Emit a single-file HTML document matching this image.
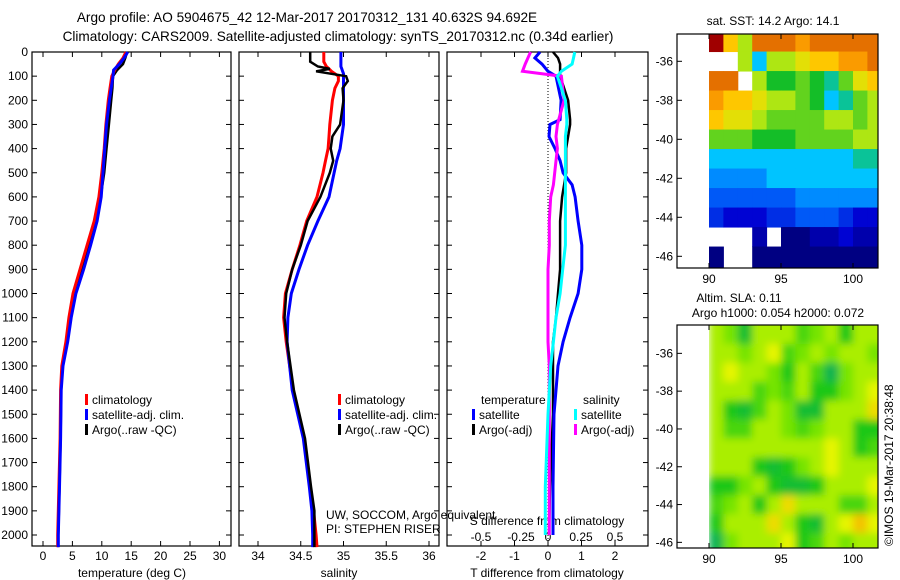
<!DOCTYPE html>
<html><head><meta charset="utf-8"><style>
html,body{margin:0;padding:0;background:#fff;}
svg{display:block;font-family:"Liberation Sans",sans-serif;}
text{font-size:12px;fill:#000;}
</style></head><body>
<svg id="c" width="900" height="580" viewBox="0 0 900 580">
<text x="307" y="22" text-anchor="middle" style="font-size:13.6px">Argo profile: AO 5904675_42 12-Mar-2017 20170312_131 40.632S 94.692E</text>
<text x="338" y="41" text-anchor="middle" style="font-size:13.6px">Climatology: CARS2009. Satellite-adjusted climatology: synTS_20170312.nc (0.34d earlier)</text>
<text x="773" y="25" text-anchor="middle">sat. SST: 14.2 Argo: 14.1</text>
<text x="739" y="302" text-anchor="middle">Altim. SLA: 0.11</text>
<text x="778" y="317" text-anchor="middle">Argo h1000: 0.054 h2000: 0.072</text>
<text transform="translate(893,546) rotate(-90)">©IMOS 19-Mar-2017 20:38:48</text>
<g id="g"></g>
</svg>
<script>
// ---- profile data ----
const depthsT = [0,25,50,75,100,150,200,300,400,500,600,700,800,900,1000,1100,1200,1300,1400,1600,1800,2000,2050];
const tempClim = [14.1,13.6,12.8,12.2,11.7,11.4,11.1,10.7,10.4,10.0,9.5,8.7,7.5,6.3,5.1,4.4,3.9,3.2,3.0,2.9,2.7,2.5,2.5];
const tempSat  = [14.4,13.8,13.0,12.0,11.9,11.6,11.3,10.8,10.5,10.2,9.9,9.2,8.1,6.9,5.6,4.8,4.2,3.4,3.1,3.0,2.8,2.6,2.6];
const tempArgo = [14.3,14.0,13.6,12.6,11.9,11.8,11.6,11.2,10.8,10.4,9.8,8.9,7.8,6.6,5.4,4.6,4.0,3.3,3.1,3.0,2.8,2.6,2.6];
const depthsS = [0,40,60,70,80,90,100,120,150,200,300,350,400,450,500,600,700,800,900,1000,1100,1200,1400,1600,1800,1900,2000,2050];
const salClim = [34.77,34.77,34.80,34.83,34.86,34.90,34.94,34.94,34.90,34.87,34.84,34.83,34.82,34.79,34.76,34.69,34.57,34.49,34.40,34.32,34.30,34.33,34.41,34.54,34.61,34.65,34.68,34.69];
const salSat  = [34.97,34.97,34.97,34.98,34.99,35.00,35.00,35.00,35.00,35.00,35.00,34.98,34.96,34.92,34.89,34.83,34.70,34.58,34.48,34.39,34.35,34.34,34.40,34.53,34.60,34.63,34.64,34.64];
const salArgo = [34.61,34.61,34.70,34.84,34.68,34.85,35.03,35.05,34.99,35.00,34.96,34.87,34.85,34.88,34.84,34.73,34.58,34.50,34.40,34.33,34.31,34.34,34.42,34.55,34.62,34.66,34.66,34.66];
const depthsD = [0,25,50,80,100,200,280,300,350,400,450,500,550,600,700,800,900,1000,1100,1200,1300,1500,1800,2000];
const dTsat  = [-0.24,-0.39,-0.18,0.00,0.24,0.39,0.36,0.06,0.03,0.21,0.36,0.45,0.72,0.81,0.90,1.01,1.01,0.90,0.66,0.45,0.30,0.18,0.15,0.15];
const dTargo = [0.15,0.30,0.36,0.36,0.36,0.60,0.66,0.66,0.60,0.54,0.54,0.54,0.48,0.42,0.36,0.36,0.36,0.30,0.24,0.15,0.15,0.15,0.06,0.03];
const dSsat  = [0.20,0.19,0.18,0.10,0.07,0.13,0.14,0.14,0.13,0.13,0.13,0.13,0.13,0.13,0.13,0.13,0.11,0.09,0.06,0.04,0.02,0.00,-0.02,-0.02];
const dSargo = [-0.13,-0.15,-0.17,-0.19,0.10,0.12,0.08,0.07,0.06,0.07,0.06,0.05,0.04,0.02,0.01,0.01,0.00,0.00,0.00,0.00,0.01,0.01,0.01,0.01];
const depthTicks = [0,100,200,300,400,500,600,700,800,900,1000,1100,1200,1300,1400,1500,1600,1700,1800,1900,2000];
const tempTicks = [0,5,10,15,20,25,30];
const salTicks = [34,34.5,35,35.5,36];
const salTickLabels = ["34","34.5","35","35.5","36"];
const dTTicks = [-2,-1,0,1,2];
const dSTicks = [-0.5,-0.25,0,0.25,0.5];
const dSTickLabels = ["-0.5","-0.25","0","0.25","0.5"];
// ---- map data ----
const mapLats = [-35,-36,-37,-38,-39,-40,-41,-42,-43,-44,-45,-46];
const mapLons = [90,91,92,93,94,95,96,97,98,99,100,101];
const N = null;
const sst = [
[18,16,15,17,17,17,16.5,17,17,17,17,17],
[N,N,15,13,15,15,15.5,16,16,16.5,16.5,17],
[17,17,N,15,14,14,14.5,14,13.5,14.5,15.5,16],
[16.5,16,16,15.5,15,15,14.5,14,13,13.5,14.5,15],
[16,15.5,15.5,15,14.5,14.5,14.5,14.5,15,15,14.5,15],
[14.5,14.5,14.5,14,14,14,14.5,14.5,14.5,14.5,15,15],
[13,13,13,13,13,13,13,13,13,13,13.5,13.5],
[12.5,12.5,12.5,12.5,13,13,13,13,13,13,13,13],
[12,12,12,12,12,12,12.5,12.5,12.5,12.5,12.5,12.5],
[11.5,11,11,11,11.5,11.5,12,12,12,11.5,11,11],
[N,N,N,10.5,N,10,10,10.5,10.5,11,10.5,10.5],
[10,N,N,10,10,10,10,10,10,10,10,10]];
const sla = [
[0.6,0.5,0.2,0.6,0.6,0.6,0.4,0.5,0.6,0.3,0.6,0.6],
[0.6,0.6,0.5,0.6,0.7,0.4,0.5,0.6,0.5,0.6,0.6,0.5],
[0.6,0.7,0.6,0.6,0.5,0.3,0.6,0.4,0.1,0.5,0.6,0.6],
[0.6,0.6,0.6,0.4,0.5,0.4,0.6,0.3,0.3,0.5,0.6,0.7],
[0.6,0.3,0.2,0.4,0.6,0.5,0.2,0.2,0.6,0.6,0.6,0.8],
[0.6,0.4,0.4,0.6,0.6,0.5,0.4,0.5,0.6,0.6,0.3,0.3],
[0.6,0.6,0.6,0.6,0.6,0.6,0.6,0.6,0.7,0.6,0.3,0.4],
[0.6,0.6,0.6,0.3,0.2,0.3,0.5,0.6,0.7,0.6,0.6,0.6],
[0.3,0.3,0.5,0.6,0.3,0.2,0.2,0.3,0.6,0.6,0.6,0.7],
[0.4,0.5,0.6,0.3,0.6,0.8,0.6,0.6,0.6,0.4,0.4,0.6],
[0.3,0.6,0.6,0.6,0.8,0.6,0.3,0.2,0.6,0.7,0.9,0.7],
[0.1,0.5,0.6,0.6,0.6,0.7,0.3,0.4,0.6,0.5,0.6,0.6]];
const latTicks = [-36,-38,-40,-42,-44,-46];
const lonTicks = [90,95,100];

const NS="http://www.w3.org/2000/svg";
const G=document.getElementById('g');
function mk(tag,attrs,parent){const e=document.createElementNS(NS,tag);for(const k in attrs)e.setAttribute(k,attrs[k]);(parent||G).appendChild(e);return e;}

const TOP=52, BOT=546;
const yD = d => TOP + d*0.2415;
const xT = t => 43 + t*5.88;
const xS = s => 258 + (s-34)*85.5;
const xDT = v => 548 + v*33.5;
const xDS = v => 548 + v*134;

function frame(x0,x1,name){
  const r=mk('rect',{x:x0,y:TOP,width:x1-x0,height:BOT-TOP,fill:'none',stroke:'#000','stroke-width':1.2});
  
  
  depthTicks.forEach(d=>{
    mk('line',{x1:x0,x2:x0+5,y1:yD(d),y2:yD(d),stroke:'#000'});
    mk('line',{x1:x1,x2:x1-5,y1:yD(d),y2:yD(d),stroke:'#000'});
  });
}
function xticks(vals,fx,labels,ly){
  vals.forEach((v,i)=>{
    const x=fx(v);
    mk('line',{x1:x,x2:x,y1:TOP,y2:TOP+5,stroke:'#000'});
    mk('line',{x1:x,x2:x,y1:BOT,y2:BOT-5,stroke:'#000'});
    if(labels){const t=mk('text',{x:x,y:ly,'text-anchor':'middle'});t.textContent=labels[i];
      
      }
  });
}
function line(ds,vs,fx,color,name,w){
  const pts=ds.map((d,i)=>fx(vs[i]).toFixed(1)+','+yD(d).toFixed(1)).join(' ');
  const p=mk('polyline',{points:pts,fill:'none',stroke:color,'stroke-width':w||3,'stroke-linejoin':'miter'});
  
  
}
function legend(x,y,color,label){
  mk('rect',{x:x,y:y-10,width:3,height:11,fill:color});
  const t=mk('text',{x:x+7,y:y});t.textContent=label;
  
  
}

frame(32,231,'temperature-panel');
frame(239,439,'salinity-panel');
frame(447,648,'difference-panel');
depthTicks.forEach(d=>{
  const t=mk('text',{x:28,y:yD(d)+4,'text-anchor':'end'});t.textContent=d;
  
  
});
xticks(tempTicks,xT,tempTicks.map(String),560);
xticks(salTicks,xS,salTickLabels,560);
xticks(dTTicks,xDT,dTTicks.map(String),560);
dSTicks.forEach((v,i)=>{
  const xs=[481,521,548,581,615];
  const t=mk('text',{x:xs[i],y:541,'text-anchor':'middle'});t.textContent=dSTickLabels[i];
  
  
});
[['temperature (deg C)',132],['salinity',339],['T difference from climatology',547]].forEach(a=>{
  const t=mk('text',{x:a[1],y:577,'text-anchor':'middle'});t.textContent=a[0];
  
  
});
{const t=mk('text',{x:547,y:525,'text-anchor':'middle'});t.textContent='S difference from climatology';

}
{const t=mk('text',{x:326,y:519});t.textContent='UW, SOCCOM, Argo equivalent';

}
{const t=mk('text',{x:326,y:533});t.textContent='PI: STEPHEN RISER';

}

mk('line',{x1:548,x2:548,y1:TOP,y2:BOT,stroke:'#000','stroke-dasharray':'1,2'});

line(depthsT,tempArgo,xT,'#000','temp-argo-line',2.5);
line(depthsT,tempClim,xT,'#f00','temp-clim-line');
line(depthsT,tempSat,xT,'#00f','temp-sat-line');
line(depthsS,salClim,xS,'#f00','sal-clim-line');
line(depthsS,salSat,xS,'#00f','sal-sat-line');
line(depthsS,salArgo,xS,'#000','sal-argo-line',2.5);
line(depthsD,dTargo,xDT,'#000','dt-argo-line',2.5);
line(depthsD,dTsat,xDT,'#00f','dt-sat-line');
line(depthsD,dSargo,xDS,'#f0f','ds-argo-line');
line(depthsD,dSsat,xDS,'#0ff','ds-sat-line');

legend(85,404,'#f00','climatology');
legend(85,419,'#00f','satellite-adj. clim.');
legend(85,434,'#000','Argo(..raw -QC)');
legend(338,404,'#f00','climatology');
legend(338,419,'#00f','satellite-adj. clim.');
legend(338,434,'#000','Argo(..raw -QC)');
{const t=mk('text',{x:481,y:404});t.textContent='temperature';}
{const t=mk('text',{x:583,y:404});t.textContent='salinity';}
legend(472,419,'#00f','satellite');
legend(472,434,'#000','Argo(-adj)');
legend(574,419,'#0ff','satellite');
legend(574,434,'#f0f','Argo(-adj)');

// ---- maps ----
function jet(v){
  const stops=[[0,[0,0,130]],[0.12,[0,0,210]],[0.28,[0,110,255]],[0.38,[0,200,255]],[0.5,[20,190,40]],[0.62,[170,230,20]],[0.72,[255,220,0]],[0.82,[250,150,0]],[0.92,[210,80,0]],[1,[160,0,0]]];
  v=Math.max(0,Math.min(1,v));
  for(let i=1;i<stops.length;i++){if(v<=stops[i][0]){const a=stops[i-1],b=stops[i],f=(v-a[0])/(b[0]-a[0]);
    return 'rgb('+a[1].map((c,k)=>Math.round(c+(b[1][k]-c)*f)).join(',')+')';}}
  return 'rgb(160,0,0)';
}
function slaCol(v){
  const stops=[[0,[0,170,110]],[0.3,[30,200,20]],[0.55,[140,235,0]],[0.7,[230,245,0]],[1,[250,170,0]]];
  for(let i=1;i<stops.length;i++){if(v<=stops[i][0]){const a=stops[i-1],b=stops[i],f=(v-a[0])/(b[0]-a[0]);
    return 'rgb('+a[1].map((c,k)=>Math.round(c+(b[1][k]-c)*f)).join(',')+')';}}
  return 'rgb(250,170,0)';
}
function drawMap(top,bot,latTop,pxPerLat,grid,colfn,name,blur){
  const L=677,R=878;
  const xL=lon=>709+(lon-90)*14.4;
  const yL=lat=>top+(latTop-lat)*pxPerLat;
  const cp=mk('clipPath',{id:'cp'+name});mk('rect',{x:709,y:top,width:R-709,height:bot-top},cp);
  const outer=mk('g',{'clip-path':'url(#cp'+name+')'});
  const g=mk('g',blur?{filter:'url(#bl)'}:{},outer);
  
  
  mapLats.forEach((lat,i)=>mapLons.forEach((lon,j)=>{
    const v=grid[i][j]; if(v===null)return;
    const y0=yL(lat+0.5)-(i==0?10:0), y1=yL(lat-0.5)+(i==mapLats.length-1?10:0);
    const x0=xL(lon), x1=xL(lon+1)+(j==mapLons.length-1?10:0);
    const c=mk('rect',{x:x0,y:y0,width:x1-x0+0.5,height:y1-y0+0.5,fill:colfn(v)},g);
    
    
  }));
  const f=mk('rect',{x:L,y:top,width:R-L,height:bot-top,fill:'none',stroke:'#000','stroke-width':1.2});
  
  
  latTicks.forEach(lat=>{
    const y=yL(lat);
    mk('line',{x1:L,x2:L+5,y1:y,y2:y,stroke:'#000'});
    const t=mk('text',{x:673,y:y+4,'text-anchor':'end'});t.textContent=lat;
    
    
  });
  lonTicks.forEach(lon=>{
    const x=xL(lon);
    mk('line',{x1:x,x2:x,y1:bot,y2:bot-5,stroke:'#000'});
    mk('line',{x1:x,x2:x,y1:top,y2:top+5,stroke:'#000'});
    const t=mk('text',{x:x,y:bot+15,'text-anchor':'middle'});t.textContent=lon;
    
    
  });
}
const defs=mk('defs',{});
const flt=mk('filter',{id:'bl',x:'-5%',y:'-5%',width:'110%',height:'110%'},defs);
mk('feGaussianBlur',{stdDeviation:4},flt);
drawMap(34,268,-34.6,19.5,sst,v=>jet((v-10)/8),'sst-map',false);
drawMap(325,548,-34.5,18.9,sla,slaCol,'sla-map',true);
</script>
</body></html>
